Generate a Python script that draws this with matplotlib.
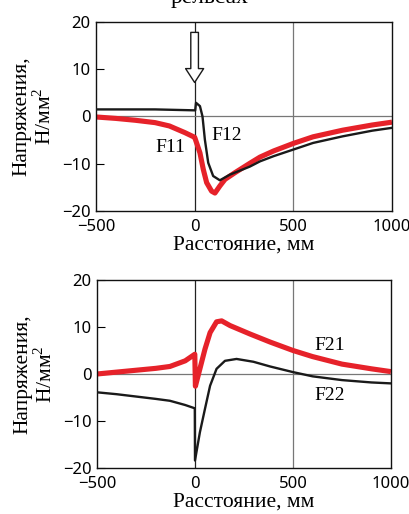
import matplotlib
matplotlib.use('Agg')
import matplotlib.pyplot as plt

# top panel: F11 (red) and F12 (black)
f11_x = [-500, -400, -300, -200, -128, -50, 0, 2, 27, 44, 61, 86, 103, 128, 154, 204,
         280, 331, 400, 500, 600, 750, 900, 1000]
f11_y = [-0.1, -0.4, -0.8, -1.3, -2.0, -3.4, -4.4, -4.6, -7.7, -11.2, -14.0, -15.8, -16.2,
         -14.7, -13.3, -11.9, -9.9, -8.6, -7.3, -5.7, -4.3, -2.9, -1.8, -1.2]
f12_x = [-500, -200, 3, 7, 27, 40, 52, 69, 94, 128, 179, 280, 331, 400, 500, 600, 750,
         900, 1000]
f12_y = [1.5, 1.5, 1.3, 2.9, 2.2, 0.0, -4.9, -9.8, -12.6, -13.5, -12.3, -10.6, -9.5, -8.4,
         -7.0, -5.6, -4.2, -3.0, -2.4]

# bottom panel: F21 (red) and F22 (black)
f21_x = [-500, -400, -300, -200, -128, -50, -1, 2, 25, 51, 77, 110, 136, 179, 281, 383,
         500, 600, 750, 900, 1000]
f21_y = [0, 0.4, 0.8, 1.2, 1.6, 2.8, 4.2, -2.6, 1.1, 5.3, 8.8, 11.1, 11.3, 10.3, 8.5, 6.8,
         5.0, 3.7, 2.1, 1.1, 0.5]
f22_x = [-500, -400, -300, -200, -128, -50, -1, 0, 25, 51, 77, 110, 153, 212, 298, 383,
         500, 600, 750, 900, 1000]
f22_y = [-3.9, -4.3, -4.8, -5.3, -5.7, -6.6, -7.3, -18.4, -12.4, -7.4, -2.5, 1.1, 2.8,
         3.2, 2.6, 1.6, 0.4, -0.5, -1.3, -1.8, -2.0]

x_ticks = [-500, 0, 500, 1000]
y_ticks = [-20, -10, 0, 10, 20]

RED = '#e6222a'
BLACK = '#1a1a1a'
SERIF = 'Liberation Serif'
SANS = 'Noto Sans'

fig = plt.figure(figsize=(4.1, 5.14), dpi=100)
ax1 = fig.add_axes([0.234, 0.5895, 0.722, 0.3677])
ax2 = fig.add_axes([0.2366, 0.0895, 0.717, 0.3658])

# cut-off title at the very top
fig.text(0.51, 1 - 3 / 514, 'рельсах', ha='center', va='baseline',
         fontsize=17, family=SERIF)

for ax in (ax1, ax2):
    ax.set_xlim(-500, 1000)
    ax.set_ylim(-20, 20)
    ax.set_xticks(x_ticks)
    ax.set_yticks(y_ticks)
    ax.set_xticklabels([str(t).replace('-', '\u2212') for t in x_ticks])
    ax.set_yticklabels([str(t).replace('-', '\u2212') for t in y_ticks])
    ax.tick_params(axis='y', direction='in', length=6, width=0.8, pad=4, labelsize=12)
    ax.tick_params(axis='x', length=0, pad=6, labelsize=12)
    for lab in ax.get_xticklabels() + ax.get_yticklabels():
        lab.set_family(SANS)
    for sp in ax.spines.values():
        sp.set_linewidth(1.0)
        sp.set_color('#111111')
    ax.axvline(0, color='#222222', lw=0.9, zorder=1)
    ax.axvline(500, color='#777777', lw=0.9, zorder=1)
    ax.axhline(0, color='#777777', lw=0.9, zorder=1)
    ax.set_xlabel('Расстояние, мм', family=SERIF, fontsize=15.5, labelpad=0)
    ax.set_ylabel('Напряжения,\nН/мм$^{\\mathregular{2}}$', family=SERIF, fontsize=15.5,
                  linespacing=1.12, labelpad=4)

ax1.plot(f12_x, f12_y, color=BLACK, lw=1.7, zorder=3)
ax1.plot(f11_x, f11_y, color=RED, lw=3.7, zorder=2, solid_capstyle='butt')
ax1.text(-121, -6.6, 'F11', family=SERIF, fontsize=14, ha='center', va='center')
ax1.text(162, -4.0, 'F12', family=SERIF, fontsize=14, ha='center', va='center')
ax1.annotate('', xy=(0, 7.2), xytext=(0, 17.8),
             arrowprops=dict(arrowstyle='simple,head_width=1.3,head_length=1.0,tail_width=0.55',
                             fc='white', ec=BLACK, lw=1.0, shrinkA=0, shrinkB=0))

ax2.plot(f22_x, f22_y, color=BLACK, lw=1.7, zorder=3)
ax2.plot(f21_x, f21_y, color=RED, lw=3.7, zorder=2, solid_capstyle='butt')
ax2.text(689, 6.0, 'F21', family=SERIF, fontsize=14, ha='center', va='center')
ax2.text(689, -4.6, 'F22', family=SERIF, fontsize=14, ha='center', va='center')

fig.savefig('out.png', dpi=100)
